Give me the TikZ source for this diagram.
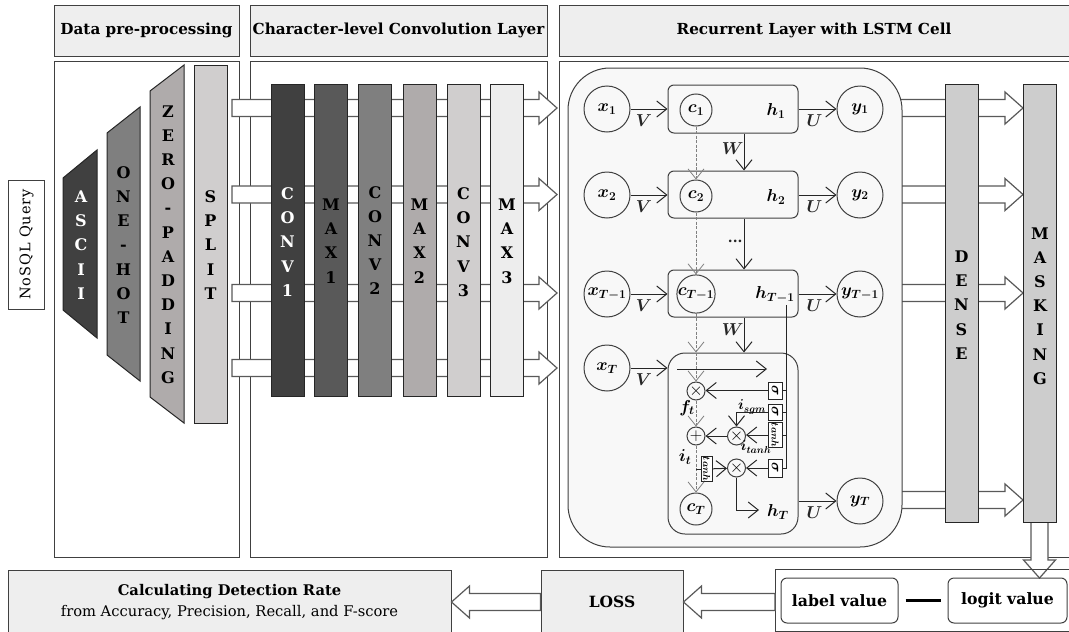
\documentclass[tikz,border=0pt]{standalone}
\usepackage{graphicx}
\usepackage{fontspec}
\setmainfont{DejaVu Serif}
\usepackage{tikz}
\usetikzlibrary{arrows.meta,positioning,calc}
\definecolor{edge}{RGB}{64,64,64}
\definecolor{headf}{RGB}{238,238,238}
\definecolor{roundf}{RGB}{248,248,248}
\definecolor{gfirst}{RGB}{64,64,64}
\definecolor{gsecond}{RGB}{89,89,89}
\definecolor{gthird}{RGB}{127,127,127}
\definecolor{gfourth}{RGB}{175,171,171}
\definecolor{gfifth}{RGB}{208,206,206}
\definecolor{gsixth}{RGB}{237,237,237}
\definecolor{gdense}{RGB}{205,205,205}
\newcommand{\sz}[2]{\fontsize{#1}{#2}\selectfont}
\newcommand{\fatarrow}[2]{%
  \coordinate (fb) at ($(#2)!18pt!(#1)$);
  \draw[fatline] ($(#1)!8.5pt!90:(#2)$) -- ($(fb)!8.5pt!90:(#2)$)
    -- ($(fb)!16pt!90:(#2)$) -- (#2) -- ($(fb)!16pt!-90:(#2)$)
    -- ($(fb)!8.5pt!-90:(#2)$) -- ($(#1)!8.5pt!-90:(#2)$) -- cycle;
}
\tikzset{
  headbox/.style={draw=edge,line width=1pt,fill=headf,inner sep=0pt,align=center,font=\bfseries\sz{15.2}{17}},
  panel/.style={draw=edge,line width=1pt,inner sep=0pt},
  fatline/.style={draw=black!65,line width=1.2pt,fill=white,line join=miter},
  bar/.style={draw=black!85,line width=1pt,inner sep=0pt,minimum width=33pt},
  bartext/.style={inner sep=0pt,align=center,font=\bfseries\sz{16}{24.2}},
  flow/.style={-{Straight Barb[length=10pt,width=16pt]},line width=1pt,black!85},
  dashflow/.style={-{Straight Barb[length=10pt,width=16pt]},line width=.8pt,gray,dash pattern=on 3pt off 1.5pt},
  state/.style={circle,draw=edge,line width=1pt,inner sep=0pt,minimum size=46pt,font=\sz{17.28}{20}\boldmath},
  cstate/.style={circle,draw=edge,line width=1pt,inner sep=0pt,minimum size=32pt,font=\sz{17.28}{20}\boldmath},
  cellbox/.style={draw=edge,line width=1pt,rounded corners=6pt,inner sep=0pt,minimum width=130pt},
  gate/.style={circle,draw=edge,line width=1pt,inner sep=0pt,minimum size=18pt,font=\sz{17.28}{20}},
  actbox/.style={draw=black!85,line width=1pt,fill=white,inner sep=0pt,minimum width=14pt,font=\sz{10}{12}\boldmath},
  mathlab/.style={inner sep=0pt,font=\sz{17.28}{20}\boldmath},
  smalllab/.style={inner sep=0pt,font=\sz{14.4}{16}\boldmath},
  valbox/.style={draw=edge,line width=1pt,rounded corners=6pt,inner sep=0pt,minimum height=45pt,font=\bfseries\sz{15.7}{17}},
}
\begin{document}
\begin{tikzpicture}[x=1pt,y=-1pt]
\clip (0,0) rectangle (1069,632);

% headers
\node[headbox,minimum width=185pt,minimum height=51pt] (prephead) at (146.5,30.5) {Data pre-processing};
\node[headbox,minimum width=297pt,minimum height=51pt] (convhead) at (398.5,30.5) {Character-level Convolution Layer};
\node[headbox,minimum width=520pt,minimum height=51pt] (lstmhead) at (819,30.5) {\hspace*{-10pt}Recurrent Layer with LSTM Cell};

% panels
\node[panel,minimum width=185pt,minimum height=496pt] (prepanel) at (146.5,309) {};
\node[panel,minimum width=297pt,minimum height=496pt] (convpanel) at (398.5,309) {};
\node[panel,minimum width=520pt,minimum height=496pt] (lstmpanel) at (819,309) {};
\node[panel,minimum width=36pt,minimum height=129pt] (query) at (26,244.5) {};
\node[inner sep=0pt,rotate=90,font=\sz{14.5}{16}] (querytext) at (26.5,244.5) {\addfontfeature{LetterSpace=6}NoSQL Query};

% fat arrows behind the bars
\foreach \n/\yy in {1/108,2/194.5,3/293,4/368}{
  \coordinate (cs\n) at (232,\yy);
  \coordinate (ce\n) at (557,\yy);
  \fatarrow{cs\n}{ce\n}
}
\foreach \n/\yy in {1/108,2/194.5,3/293,4/500}{
  \coordinate (ds\n) at (890,\yy);
  \coordinate (de\n) at (1023,\yy);
  \fatarrow{ds\n}{de\n}
}
\coordinate (dns) at (1039.5,515);
\coordinate (dne) at (1039.5,578);
\fatarrow{dns}{dne}

% trapezoids
\draw[bar,fill=gfirst] (63,178) -- (97,150) -- (97,338) -- (63,310) -- cycle;
\draw[bar,fill=gthird] (107,133) -- (140,107) -- (140,381) -- (107,355) -- cycle;
\draw[bar,fill=gfourth] (150,91) -- (184,65) -- (184,423) -- (150,397) -- cycle;
\node[bar,fill=gfifth,minimum height=358pt] (split) at (210.5,244) {};
\node[bartext,text=white] (ascii) at (81,245) {A\\S\\C\\I\\I};
\node[bartext] (onehot) at (123.5,245) {O\\N\\E\\-\\H\\O\\T};
\node[bartext] (zero) at (168,244.5) {Z\\E\\R\\O\\-\\P\\A\\D\\D\\I\\N\\G};
\node[bartext] (splittext) at (210.5,245) {S\\P\\L\\I\\T};

% conv bars: {name, x, fill, text, text y, letters}
\foreach \nm/\xx/\col/\tc/\ty/\lab in {
   conv1/287.5/gfirst/white/242/{C\\O\\N\\V\\1},
   max1/331/gsecond/black/241/{M\\A\\X\\1},
   conv2/375/gthird/black/240.5/{C\\O\\N\\V\\2},
   max2/419.5/gfourth/black/241/{M\\A\\X\\2},
   conv3/463.5/gfifth/black/242/{C\\O\\N\\V\\3},
   max3/507/gsixth/black/241/{M\\A\\X\\3}}{
  \node[bar,fill=\col,minimum height=312pt] (\nm) at (\xx,240) {};
  \node[bartext,text=\tc] (\nm-text) at (\xx,\ty) {\lab};
}

% recurrent block
\node[draw=edge,line width=1pt,fill=roundf,rounded corners=42pt,minimum width=334pt,minimum height=479pt] (rnn) at (735,307.5) {};
\node[cellbox,minimum height=48pt] (box1) at (733,109) {};
\node[cellbox,minimum height=47pt] (box2) at (733,194.5) {};
\node[cellbox,minimum height=47pt] (box3) at (733,293.5) {};
\node[cellbox,minimum height=181pt,rounded corners=17pt] (box4) at (733,443.5) {};

% rows: {n, y input, y output, x, y}
\foreach \n/\yi/\yo/\xl/\yl in {
   1/109/109/x_1/y_1,
   2/195/195/x_2/y_2,
   3/294/294/x_{T-1}/y_{T-1},
   4/368/501/x_T/y_T}{
  \node[state] (x\n) at (607,\yi) {$\xl$};
  \node[state] (y\n) at (860,\yo) {$\yl$};
  \draw[flow] (x\n) -- node[mathlab,pos=.36,below=5pt] (v\n) {$V$} (x\n -| box\n.west);
  \draw[flow] (y\n -| box\n.east) -- node[mathlab,pos=.42,below=5pt] (u\n) {$U$} (y\n);
}
\foreach \n/\yy/\cl/\hl/\hx in {
   1/110/c_1/h_1/776,
   2/196/c_2/h_2/776,
   3/294/c_{T-1}/h_{T-1}/775}{
  \node[cstate] (c\n) at (696,\yy) {$\cl$};
  \node[mathlab] (h\n) at (\hx,\yy+1) {$\hl$};
}
\node[cstate] (c4) at (696,509) {$c_T$};
\node[mathlab] (h4) at (778,512) {$h_T$};

% vertical links
\coordinate (wx) at (744,0);
\draw[flow] (box1.south -| wx) -- node[mathlab,left=0pt,pos=.4] (w1) {$W$} (box2.north -| wx);
\draw[flow] (box2.south -| wx) -- node[inner sep=0pt,left=1pt,pos=.45,font=\bfseries\sz{14}{14}] (dots) {...} (box3.north -| wx);
\draw[flow] (box3.south -| wx) -- node[mathlab,left=0pt,pos=.35] (w3) {$W$} (box4.north -| wx);
\draw[dashflow] (c1) -- (c2);
\draw[dashflow] (c2) -- (c3);
\draw[dashflow] (c3) -- (c3 |- box4.north);

% inside the last cell
\coordinate (ins) at (677,369);
\coordinate (ine) at (767,369);
\draw[flow] (ins) -- (ine);
\node[gate] (mulf) at (696,391) {$\times$};
\node[gate] (addg) at (696,436) {$+$};
\node[gate] (muli) at (736.5,436) {$\times$};
\node[gate] (mulo) at (736.5,468) {$\times$};
\node[actbox,minimum height=17pt,font=\sz{14.4}{16}\boldmath] (sig1) at (775,390.5) {\rotatebox{-90}{$\sigma$}};
\node[actbox,minimum height=16pt,font=\sz{14.4}{16}\boldmath] (sig2) at (775,412) {\rotatebox{-90}{$\sigma$}};
\node[actbox,minimum height=24pt] (tanh2) at (775,435) {\rotatebox{-90}{$tanh$}};
\node[actbox,minimum height=18pt,font=\sz{14.4}{16}\boldmath] (sig3) at (775,468) {\rotatebox{-90}{$\sigma$}};
\node[actbox,minimum width=11pt,minimum height=25pt] (tanh1) at (706.5,469) {\rotatebox{-90}{$tanh$}};
\draw[dashflow] (c3 |- box4.north) -- (mulf);
\draw[dashflow] (mulf) -- (addg);
\draw[dashflow] (addg) -- (c4);
\coordinate (hout) at (786,305);
\draw[line width=1pt,black!85] (hout) |- (sig3);
\draw[line width=1pt,black!85] (sig1) -- (sig1 -| hout);
\draw[line width=1pt,black!85] (sig2) -- (sig2 -| hout);
\draw[line width=1pt,black!85] (tanh2) -- (tanh2 -| hout);
\draw[line width=1pt,black!85] (tanh1) -- (tanh1 -| addg);
\draw[flow] (sig1) -- (sig1 -| mulf.east);
\draw[flow] (tanh2) -- (tanh2 -| muli.east);
\draw[flow] (muli) -- (addg);
\draw[flow] (sig2.west) -| (muli);
\draw[flow] (sig3) -- (mulo);
\draw[flow] (tanh1) -- (mulo);
\coordinate (hin) at (759,510);
\draw[flow] (mulo) |- (hin);
\node[mathlab] (ft) at (687,408) {$f_t$};
\node[mathlab] (it) at (685,457) {$i_t$};
\node[smalllab] (isgm) at (752,407) {$i_{sgm}$};
\node[smalllab] (itanh) at (756,447) {$i_{tanh}$};

% dense and masking
\node[bar,fill=gdense,minimum height=438pt] (dense) at (961.5,303) {};
\node[bar,fill=gdense,minimum height=438pt] (masking) at (1040,303) {};
\node[bartext] (densetext) at (961.5,305) {D\\E\\N\\S\\E};
\node[bartext] (maskingtext) at (1040,306) {M\\A\\S\\K\\I\\N\\G};

% bottom row
\node[headbox,minimum width=443pt,minimum height=64pt,font=\bfseries\sz{14.7}{17}] (rate) at (229.5,602) {Calculating Detection Rate\\[4pt]{\mdseries\sz{14.7}{17}from Accuracy, Precision, Recall, and F-score}};
\node[headbox,minimum width=142pt,minimum height=64pt,font=\bfseries\sz{15.5}{17}] (loss) at (612,602) {LOSS};
\node[panel,minimum width=300pt,minimum height=62.5pt] (outpanel) at (925,600.25) {};
\node[valbox,minimum width=117pt] (labelv) at (839.5,600.5) {\raisebox{-2pt}{label value}};
\node[valbox,minimum width=119pt] (logitv) at (1007.5,600.5) {\raisebox{-2pt}{logit value}};
\coordinate (le) at ($(labelv.east)+(7,0)$);
\coordinate (ls) at ($(logitv.west)+(-7,0)$);
\draw[line width=2.5pt,black] (le) -- (ls);
\fatarrow{loss.west}{rate.east}
\coordinate (os) at (775,602);
\fatarrow{os}{loss.east}

\end{tikzpicture}
\end{document}
